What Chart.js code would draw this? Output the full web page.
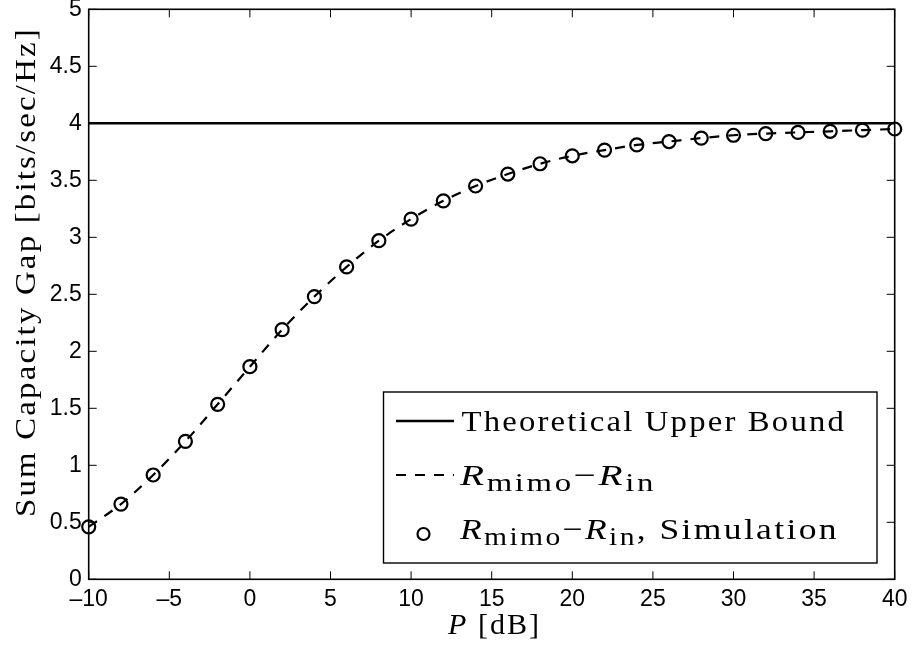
<!DOCTYPE html>
<html>
<head>
<meta charset="utf-8">
<script src="https://cdn.jsdelivr.net/npm/chart.js@4.4.1/dist/chart.umd.min.js"></script>
<style>
  html, body { margin: 0; padding: 0; background: #fff; }
  #wrap { width: 912px; height: 651px; }
</style>
</head>
<body>
<div id="wrap"><canvas id="gapChart" width="912" height="651"></canvas></div>
<script>
// data
const pValues = [-10, -8, -6, -4, -2, 0, 2, 4, 6, 8, 10, 12, 14, 16, 18, 20, 22, 24, 26, 28, 30, 32, 34, 36, 38, 40];
const gapValues = [0.46, 0.66, 0.915, 1.21, 1.535, 1.865, 2.19, 2.48, 2.74, 2.97, 3.16, 3.32, 3.45, 3.555, 3.645,
  3.715, 3.765, 3.81, 3.84, 3.87, 3.895, 3.91, 3.92, 3.93, 3.94, 3.95];
const boundP = [-10, 40];
const boundGap = [4, 4];

const xTicks = [-10, -5, 0, 5, 10, 15, 20, 25, 30, 35, 40];
const xTickLabels = ['\u201310', '\u20135', '0', '5', '10', '15', '20', '25', '30', '35', '40'];
const yTicks = [0, 0.5, 1, 1.5, 2, 2.5, 3, 3.5, 4, 4.5, 5];
const yTickLabels = ['0', '0.5', '1', '1.5', '2', '2.5', '3', '3.5', '4', '4.5', '5'];

const SERIF = 'Liberation Serif';
const SANS = 'Liberation Sans';

function toPoints(xs, ys) {
  return xs.map((x, i) => ({ x: x, y: ys[i] }));
}

// text runs stretched to fit between x0 and x1 (CM-like spacing)
function drawRuns(ctx, runs, x0, x1, baseY, rotate) {
  ctx.save();
  ctx.fillStyle = '#000';
  ctx.textAlign = 'left';
  ctx.textBaseline = 'alphabetic';
  ctx.letterSpacing = '2px';
  let total = 0;
  runs.forEach(r => { ctx.font = r.font; r.w = ctx.measureText(r.text).width; total += r.w; });
  const k = Math.abs(x1 - x0) / total;
  if (rotate) {
    ctx.translate(baseY, x0);
    ctx.rotate(-Math.PI / 2);
  } else {
    ctx.translate(x0, baseY);
  }
  ctx.scale(k, 1);
  let x = 0;
  runs.forEach(r => { ctx.font = r.font; ctx.fillText(r.text, x, r.dy || 0); x += r.w; });
  ctx.restore();
}

const mathRuns = [
  { text: 'R', font: 'italic 30px ' + SERIF },
  { text: 'mimo', font: '25px ' + SERIF, dy: 6 },
  { text: '\u2212', font: '30px ' + SERIF },
  { text: 'R', font: 'italic 30px ' + SERIF },
  { text: 'in', font: '25px ' + SERIF, dy: 6 }
];

// frame, inward ticks, titles and legend
const matlabAxes = {
  id: 'matlabAxes',
  afterDraw(chart) {
    const ctx = chart.ctx;
    const a = chart.chartArea;
    const xs = chart.scales.x, ys = chart.scales.y;
    ctx.save();
    ctx.strokeStyle = '#000';
    ctx.lineWidth = 1;
    ctx.beginPath();
    xTicks.forEach(v => {
      const px = xs.getPixelForValue(v);
      ctx.moveTo(px, a.bottom); ctx.lineTo(px, a.bottom - 8);
      ctx.moveTo(px, a.top); ctx.lineTo(px, a.top + 8);
    });
    yTicks.forEach(v => {
      const py = ys.getPixelForValue(v);
      ctx.moveTo(a.left, py); ctx.lineTo(a.left + 8, py);
      ctx.moveTo(a.right, py); ctx.lineTo(a.right - 8, py);
    });
    ctx.stroke();
    ctx.lineWidth = 1.6;
    ctx.strokeRect(a.left, a.top, a.right - a.left, a.bottom - a.top);
    ctx.restore();

    // axis titles
    drawRuns(ctx, [
      { text: 'P', font: 'italic 30px ' + SERIF },
      { text: ' [dB]', font: '30px ' + SERIF }
    ], 448, 541, 634);
    drawRuns(ctx, [{ text: 'Sum Capacity Gap [bits/sec/Hz]', font: '30px ' + SERIF }], 517, 27, 35, true);

    // legend
    const ds = chart.data.datasets;
    ctx.save();
    ctx.fillStyle = '#fff';
    ctx.fillRect(383.5, 392, 493.5, 171);
    ctx.strokeStyle = '#000';
    ctx.lineWidth = 1.4;
    ctx.strokeRect(383.5, 392, 493.5, 171);

    ctx.lineWidth = ds[0].borderWidth;
    ctx.beginPath(); ctx.moveTo(396, 421); ctx.lineTo(454, 421); ctx.stroke();

    ctx.lineWidth = ds[1].borderWidth;
    ctx.setLineDash(ds[1].borderDash);
    ctx.beginPath(); ctx.moveTo(396, 475); ctx.lineTo(454, 475); ctx.stroke();
    ctx.setLineDash([]);

    ctx.lineWidth = ds[2].pointBorderWidth;
    ctx.beginPath(); ctx.arc(423.5, 534, ds[2].pointRadius - 0.5, 0, Math.PI * 2); ctx.stroke();
    ctx.restore();

    drawRuns(ctx, [{ text: ds[0].label, font: '30px ' + SERIF }], 461.5, 846, 431);
    drawRuns(ctx, mathRuns.map(r => Object.assign({}, r)), 460, 656, 485);
    drawRuns(ctx, mathRuns.map(r => Object.assign({}, r)).concat([{ text: ', Simulation', font: '30px ' + SERIF }]), 460, 839, 539);
  }
};

new Chart(document.getElementById('gapChart'), {
  type: 'scatter',
  data: {
    datasets: [
      {
        label: 'Theoretical Upper Bound',
        data: toPoints(boundP, boundGap),
        showLine: true,
        borderColor: '#000',
        borderWidth: 2.4,
        pointRadius: 0
      },
      {
        label: 'R_mimo - R_in',
        data: toPoints(pValues, gapValues),
        showLine: true,
        borderColor: '#000',
        borderWidth: 2.2,
        borderDash: [10, 9],
        cubicInterpolationMode: 'monotone',
        pointRadius: 0
      },
      {
        label: 'R_mimo - R_in, Simulation',
        data: toPoints(pValues, gapValues),
        showLine: false,
        borderColor: '#000',
        backgroundColor: 'rgba(0,0,0,0)',
        pointStyle: 'circle',
        pointRadius: 6.5,
        pointBorderWidth: 2.2,
        pointBorderColor: '#000',
        pointBackgroundColor: 'rgba(0,0,0,0)',
        clip: false
      }
    ]
  },
  options: {
    responsive: false,
    animation: false,
    devicePixelRatio: 1,
    layout: { padding: { left: 0, right: 17.3, top: 9.3, bottom: 0 } },
    plugins: {
      legend: { display: false },
      tooltip: { enabled: false }
    },
    scales: {
      x: {
        type: 'linear',
        min: -10,
        max: 40,
        grid: { display: false, drawTicks: false },
        border: { display: false },
        afterBuildTicks: s => { s.ticks = xTicks.map(v => ({ value: v })); },
        afterFit: s => { s.height = 71.7; s.paddingLeft = 0; s.paddingRight = 0; },
        ticks: {
          autoSkip: false,
          maxRotation: 0,
          padding: 7,
          color: '#000',
          font: { family: SANS, size: 23 },
          callback: (v, i) => xTickLabels[i]
        }
      },
      y: {
        type: 'linear',
        min: 0,
        max: 5,
        grid: { display: false, drawTicks: false },
        border: { display: false },
        afterBuildTicks: s => { s.ticks = yTicks.map(v => ({ value: v })); },
        afterFit: s => { s.width = 88.7; s.paddingTop = 0; s.paddingBottom = 0; },
        ticks: {
          autoSkip: false,
          padding: 7,
          color: '#000',
          font: { family: SANS, size: 23 },
          callback: (v, i) => yTickLabels[i]
        }
      }
    }
  },
  plugins: [matlabAxes]
});
</script>
</body>
</html>
